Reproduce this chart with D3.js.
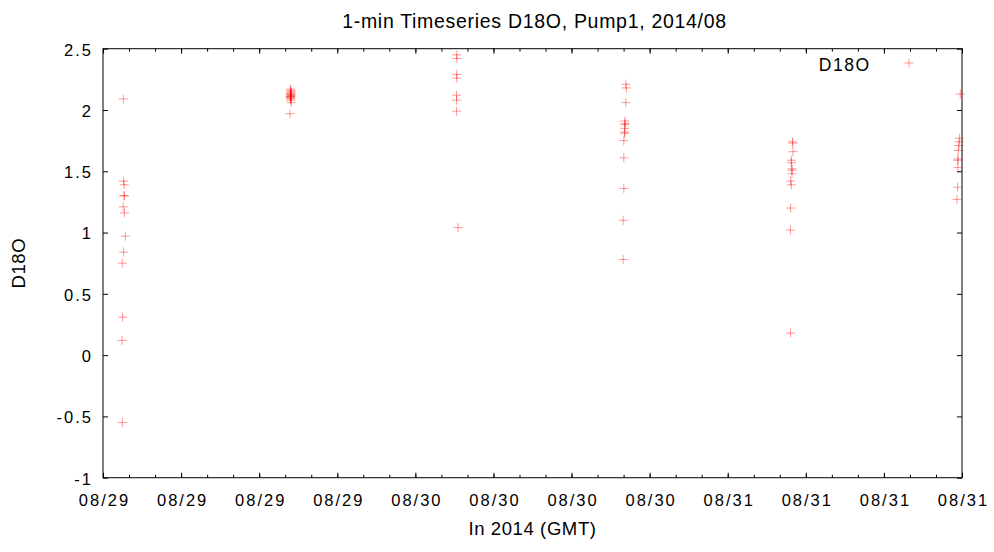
<!DOCTYPE html>
<html><head><meta charset="utf-8">
<script src="https://d3js.org/d3.v7.min.js"></script>
<style>body{margin:0;background:#fff}svg{display:block}text{font-family:"Liberation Sans",Arial,sans-serif;fill:#000}</style>
</head><body><svg id="c" width="994" height="552"></svg>
<script>
// Data (GMT times, D18O values)
const times = [
 "2014-08-29T01:34","2014-08-29T01:34","2014-08-29T01:38","2014-08-29T01:38","2014-08-29T01:37","2014-08-29T01:33","2014-08-29T01:39","2014-08-29T01:43","2014-08-29T01:35","2014-08-29T01:29","2014-08-29T01:30","2014-08-29T01:28","2014-08-29T01:29",
 "2014-08-29T14:24","2014-08-29T14:26","2014-08-29T14:27","2014-08-29T14:25","2014-08-29T14:26","2014-08-29T14:24","2014-08-29T14:27","2014-08-29T14:25","2014-08-29T14:26","2014-08-29T14:23","2014-08-29T14:25","2014-08-29T14:24","2014-08-29T14:26","2014-08-29T14:25","2014-08-29T14:28","2014-08-29T14:22",
 "2014-08-30T03:11","2014-08-30T03:11","2014-08-30T03:11","2014-08-30T03:11","2014-08-30T03:10","2014-08-30T03:10","2014-08-30T03:10","2014-08-30T03:17",
 "2014-08-30T16:10","2014-08-30T16:13","2014-08-30T16:10","2014-08-30T16:05","2014-08-30T16:08","2014-08-30T16:05","2014-08-30T16:05","2014-08-30T16:05","2014-08-30T16:05","2014-08-30T16:01","2014-08-30T16:01","2014-08-30T16:01","2014-08-30T15:58","2014-08-30T15:58",
 "2014-08-31T04:58","2014-08-31T05:00","2014-08-31T05:01","2014-08-31T04:53","2014-08-31T04:53","2014-08-31T04:56","2014-08-31T04:56","2014-08-31T04:56","2014-08-31T04:50","2014-08-31T04:53","2014-08-31T04:50","2014-08-31T04:49","2014-08-31T04:49",
 "2014-08-31T17:52","2014-08-31T17:49","2014-08-31T17:46","2014-08-31T17:46","2014-08-31T17:43","2014-08-31T17:41","2014-08-31T17:41","2014-08-31T17:41","2014-08-31T17:40","2014-08-31T17:37"
];
const d18o = [
 2.09,1.42,1.39,1.30,1.30,1.21,1.16,0.97,0.84,0.75,0.31,0.12,-0.55,
 2.17,2.16,2.15,2.14,2.13,2.13,2.12,2.12,2.11,2.11,2.10,2.10,2.09,2.08,2.06,1.97,
 2.45,2.42,2.29,2.26,2.12,2.08,1.99,1.04,
 2.21,2.18,2.06,1.91,1.89,1.88,1.85,1.82,1.81,1.75,1.61,1.36,1.10,0.78,
 1.74,1.73,1.66,1.59,1.57,1.52,1.51,1.48,1.42,1.39,1.20,1.02,0.18,
 2.13,1.77,1.74,1.71,1.67,1.60,1.59,1.53,1.37,1.27
];
const yTicks = [-1,-0.5,0,0.5,1,1.5,2,2.5];
const xDomain = ["2014-08-29T00:00","2014-08-31T18:00"];
const seriesName = "D18O";

const svg = d3.select("#c");
const L=103, R=962, T=48.7, B=477.7;
const parse = s => new Date(s+":00Z");
const x = d3.scaleUtc().domain(xDomain.map(parse)).range([L,R]);
const y = d3.scaleLinear().domain([-1,2.5]).range([B,T]);
const fmt = d3.utcFormat("%m/%d");
const LS = 2, FS = 16.5;

const majors = d3.utcHour.every(6).range(parse(xDomain[0]), new Date(+parse(xDomain[1])+1));
const minors = d3.utcHour.every(2).range(parse(xDomain[0]), new Date(+parse(xDomain[1])+1));

const g = svg.append("g");
// bottom axis
const xb = d3.axisBottom(x).tickValues(majors).tickFormat(fmt).tickSize(-5).tickPadding(12);
g.append("g").attr("transform",`translate(0,${B})`).call(xb)
  .call(a=>a.select(".domain").remove())
  .call(a=>a.selectAll("text").attr("font-size",FS).attr("letter-spacing",LS)
    .attr("dx",LS/2).attr("dy","16.3px"));
const xt = d3.axisTop(x).tickValues(majors).tickFormat("").tickSize(-5);
g.append("g").attr("transform",`translate(0,${T})`).call(xt).call(a=>a.select(".domain").remove());
// minor ticks
g.append("g").attr("transform",`translate(0,${B})`).call(d3.axisBottom(x).tickValues(minors).tickFormat("").tickSize(-3)).call(a=>a.select(".domain").remove());
g.append("g").attr("transform",`translate(0,${T})`).call(d3.axisTop(x).tickValues(minors).tickFormat("").tickSize(-3)).call(a=>a.select(".domain").remove());
// y axes
g.append("g").attr("transform",`translate(${L},0)`).call(d3.axisLeft(y).tickValues(yTicks).tickFormat(d=>String(d)).tickSize(-5).tickPadding(12))
  .call(a=>a.select(".domain").remove())
  .call(a=>a.selectAll("text").attr("font-size",FS).attr("letter-spacing",LS).attr("dx",LS).attr("dy","6.3px"));
g.append("g").attr("transform",`translate(${R},0)`).call(d3.axisRight(y).tickValues(yTicks).tickFormat("").tickSize(-5))
  .call(a=>a.select(".domain").remove());
g.selectAll(".tick line").attr("stroke","#000");
// border
svg.append("rect").attr("x",L).attr("y",T).attr("width",R-L).attr("height",B-T).attr("fill","none").attr("stroke","#000").attr("stroke-width",1);

// points
const pts = times.map((t,i)=>({t:parse(t), v:d18o[i]}));
const plus = (sel,cx,cy)=>sel.append("path").attr("d",`M${cx-4.5},${cy}H${cx+4.5}M${cx},${cy-4.5}V${cy+4.5}`)
  .attr("stroke","#ff0000").attr("stroke-opacity",0.4).attr("stroke-width",1).attr("fill","none");
const pg = svg.append("g");
pts.forEach(p=>plus(pg, x(p.t), y(p.v)));

// legend
svg.append("text").attr("x",869+1.5).attr("y",71).attr("text-anchor","end").attr("font-size",17.5).attr("letter-spacing",1.5).text(seriesName);
plus(svg, 909, 63);

// titles
svg.append("text").attr("x",(L+R)/2+2).attr("y",27.7).attr("text-anchor","middle").attr("font-size",19.5).attr("letter-spacing",0.7).text("1-min Timeseries D18O, Pump1, 2014/08");
svg.append("text").attr("x",(L+R)/2).attr("y",535).attr("text-anchor","middle").attr("font-size",18.5).attr("letter-spacing",0.6).text("In 2014 (GMT)");
svg.append("text").attr("transform",`translate(25,${(T+B)/2}) rotate(-90)`).attr("text-anchor","middle").attr("font-size",18.5).attr("letter-spacing",0.6).text("D18O");
</script></body></html>
